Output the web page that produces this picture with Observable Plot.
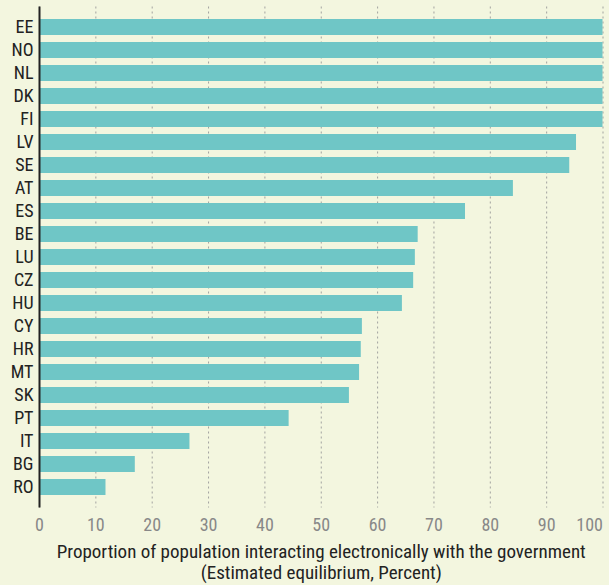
<!DOCTYPE html>
<html>
<head>
<meta charset="utf-8">
<script src="https://cdn.jsdelivr.net/npm/d3@7"></script>
<script src="https://cdn.jsdelivr.net/npm/@observablehq/plot@0.6"></script>
<style>
  html, body { margin: 0; padding: 0; background: #f3f6df; }
  #chart svg { display: block; }
</style>
</head>
<body>
<div id="chart"></div>
<script>
const countries = ["EE","NO","NL","DK","FI","LV","SE","AT","ES","BE","LU","CZ","HU","CY","HR","MT","SK","PT","IT","BG","RO"];
const values = [100, 100, 100, 100, 100, 95.3, 94.1, 84.1, 75.6, 67.2, 66.7, 66.4, 64.4, 57.3, 57.1, 56.8, 55.0, 44.3, 26.7, 17.0, 11.8];
const xTicks = [0,10,20,30,40,50,60,70,80,90,100];
const xLabelLines = ["Proportion of population interacting electronically with the government", "(Estimated equilibrium, Percent)"];

const data = countries.map((c, i) => ({country: c, value: values[i]}));
const font = "'Roboto Condensed', 'Liberation Sans Narrow', 'DejaVu Sans Condensed', 'Roboto', sans-serif";
const lastTick = xTicks[xTicks.length - 1];

const chart = Plot.plot({
  width: 609,
  height: 585,
  marginLeft: 39,
  marginRight: 6.5,
  marginTop: 6.5,
  marginBottom: 77.5,
  style: {background: "#f3f6df", fontFamily: font, fontSize: "16px", fontStretch: "condensed"},
  x: {domain: [0, 100]},
  y: {domain: countries, padding: 0.32},
  marks: [
    Plot.gridX(xTicks, {stroke: "#999", strokeOpacity: 0.9, strokeDasharray: "2,3", strokeWidth: 1}),
    Plot.barX(data, {x: "value", y: "country", fill: "#6fc6c6"}),
    Plot.axisY({tickSize: 0, tickPadding: 6, fontSize: 18, fill: "#222", label: null}),
    Plot.ruleX([0], {stroke: "#222", strokeWidth: 2}),
    Plot.axisX({ticks: xTicks.slice(0, -1), tickSize: 0, tickPadding: 10, fontSize: 18, fill: "#888", label: null}),
    Plot.axisX({ticks: [lastTick], tickSize: 0, tickPadding: 10, fontSize: 18, fill: "#888", textAnchor: "end", label: null}),
    Plot.text([xLabelLines[0]], {frameAnchor: "bottom", dy: 44, fontSize: 19, fill: "#222", lineAnchor: "middle"}),
    Plot.text([xLabelLines[1]], {frameAnchor: "bottom", dy: 65, fontSize: 19, fill: "#222", lineAnchor: "middle"})
  ]
});
document.getElementById("chart").appendChild(chart);
</script>
</body>
</html>
